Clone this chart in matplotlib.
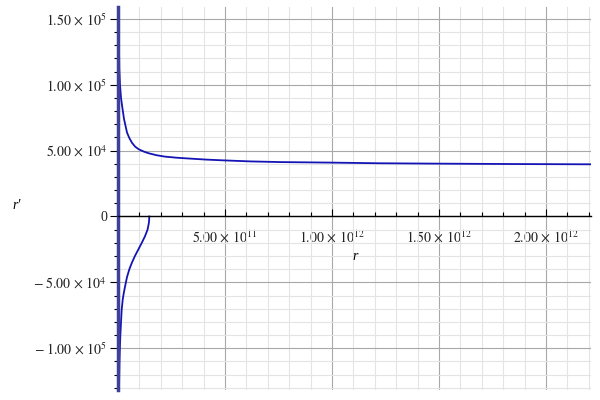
import matplotlib
matplotlib.use("Agg")
import matplotlib.pyplot as plt
import numpy as np
from matplotlib.ticker import MultipleLocator, FixedLocator

plt.rcParams['font.family'] = ['Liberation Serif', 'DejaVu Serif']
plt.rcParams['mathtext.fontset'] = 'stix'

# upper branch (r in 1e11, r' in 1e4)
r_up = [0.03, 0.045, 0.06, 0.093, 0.14, 0.19, 0.28, 0.42, 0.53, 0.65, 0.8, 0.97,
        1.2, 1.43, 1.8, 2.21, 2.75, 3.3, 4.1, 4.92, 6.2, 7.57, 9.9, 12.2, 15.0, 18.5, 22.2]
v_up = [16.0, 13.0, 11.2, 10.0, 9.0, 8.4, 7.4, 6.37, 5.95, 5.6, 5.3, 5.1,
        4.93, 4.8, 4.65, 4.54, 4.46, 4.4, 4.32, 4.26, 4.18, 4.13, 4.09, 4.04, 4.01, 3.98, 3.96]
# lower branch
r_lo = [1.46, 1.455, 1.44, 1.38, 1.26, 1.11, 0.95, 0.79, 0.65, 0.53, 0.42, 0.33,
        0.27, 0.22, 0.17, 0.14, 0.11, 0.093, 0.075, 0.065, 0.047, 0.04]
v_lo = [0.0, -0.25, -0.5, -1.0, -1.5, -2.0, -2.5, -3.0, -3.5, -4.0, -4.6, -5.3,
        -5.8, -6.3, -7.1, -8.0, -9.0, -9.7, -10.6, -11.3, -13.0, -13.5]

xticks = [5e11, 1e12, 1.5e12, 2e12]
xlabels = [r'$5.00\,\times\,10^{11}$', r'$1.00\,\times\,10^{12}$',
           r'$1.50\,\times\,10^{12}$', r'$2.00\,\times\,10^{12}$']
yticks = [-1e5, -5e4, 0, 5e4, 1e5, 1.5e5]
ylabels = [r'$-\;1.00\,\times\,10^{5}$', r'$-\;5.00\,\times\,10^{4}$', '0',
           r'$5.00\,\times\,10^{4}$', r'$1.00\,\times\,10^{5}$', r'$1.50\,\times\,10^{5}$']

fig = plt.figure(figsize=(6, 4), dpi=100)
ax = fig.add_axes([0.1967, 0.025, 0.7883, 0.9575])

col = '#1414b4'
ax.plot(np.array(r_up) * 1e11, np.array(v_up) * 1e4, color=col, lw=1.3)
ax.plot(np.array(r_lo) * 1e11, np.array(v_lo) * 1e4, color=col, lw=1.3)

ax.set_xlim(0, 2.21e12)
ax.set_ylim(-1.317e5, 1.59e5)

ax.spines['top'].set_visible(False)
ax.spines['right'].set_visible(False)
ax.spines['bottom'].set_position(('data', 0))
ax.spines['bottom'].set_linewidth(1.0)
ax.spines['left'].set_color('#40409a')
ax.spines['left'].set_linewidth(2.5)

ax.xaxis.set_major_locator(FixedLocator(xticks))
ax.set_xticklabels(xlabels)
ax.xaxis.set_minor_locator(MultipleLocator(1e11))
ax.yaxis.set_major_locator(FixedLocator(yticks))
ax.set_yticklabels(ylabels)
ax.yaxis.set_minor_locator(MultipleLocator(1e4))

ax.tick_params(axis='x', which='major', direction='in', length=5, width=0.8, labelsize=10, pad=9,
               labelcolor='#222222')
ax.tick_params(axis='x', which='minor', direction='in', length=3, width=0.8)
ax.tick_params(axis='y', which='major', direction='out', length=6, width=0.8, labelsize=10, pad=2,
               labelcolor='#222222')
ax.tick_params(axis='y', which='minor', direction='out', length=3, width=0.8)

ax.grid(which='major', color='#a8a8a8', lw=0.8)
ax.grid(which='minor', color='#e4e4e4', lw=0.8)
ax.set_axisbelow(True)

fig.text(0.592, 0.36, 'r', fontsize=10, style='italic', ha='center', va='center')
fig.text(0.027, 0.487, "r'", fontsize=10, style='italic', ha='center', va='center')

fig.savefig('out.png', dpi=100)
